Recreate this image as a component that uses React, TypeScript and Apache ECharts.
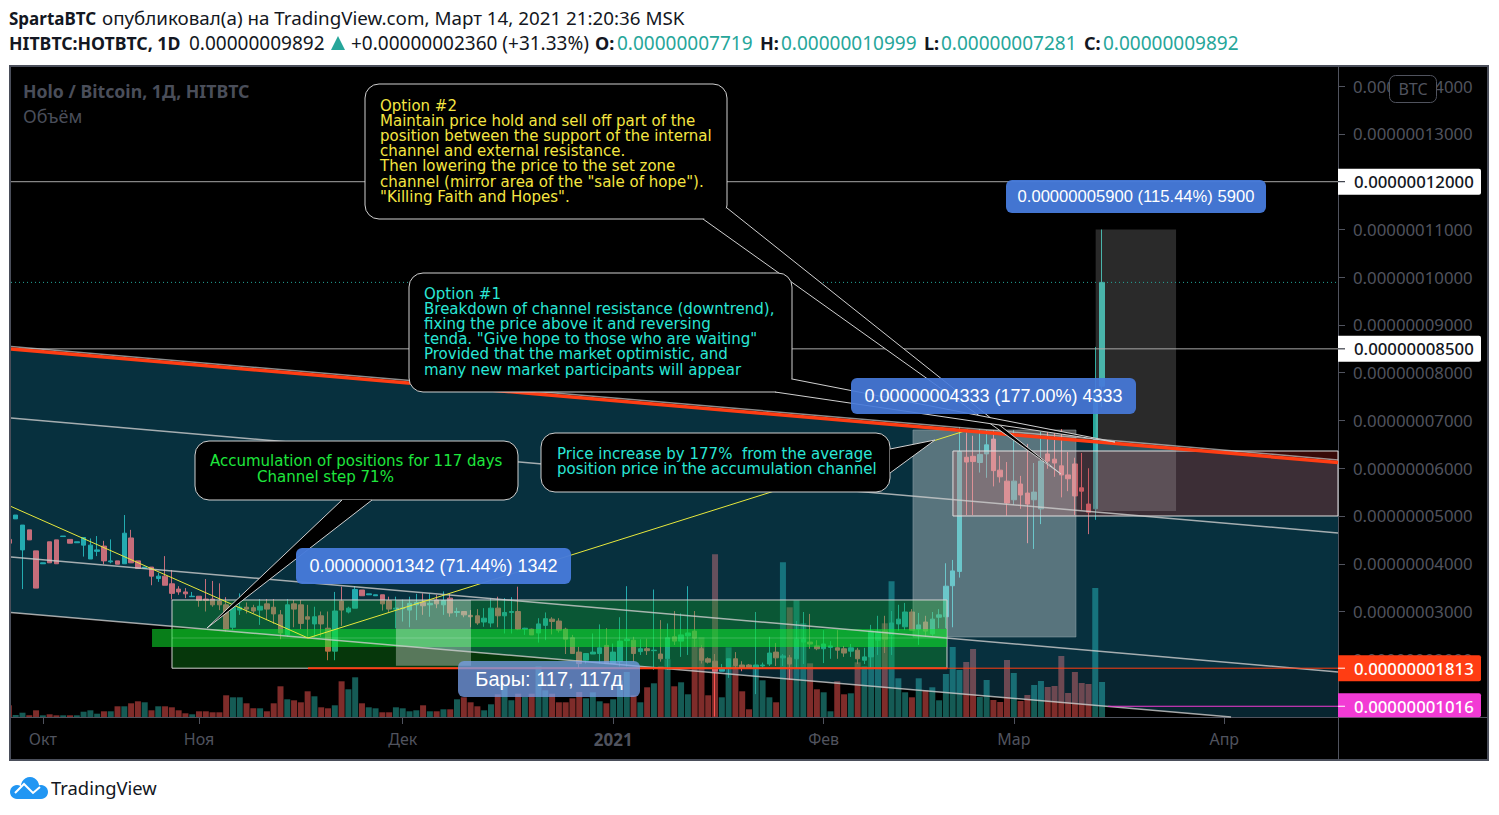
import React, { useEffect, useRef } from "react";
import * as echarts from "echarts";

// Prices are in units of 0.00000000001 BTC. x is a day number, day 0 = 1 Oct 2020.
const firstDay = 3;
// rows: [open, close, low, high]
const ohlcOct = [
  [4510,4430,4430,4510],[4940,5020,4940,5020],[4290,4810,3470,4810],[4710,4500,4500,4710],[4270,3490,3490,4270],
  [4000,4020,4000,4020],[4460,4020,4020,4460],[4500,4000,4000,4500],[4570,4580,4570,4580],[4510,4430,4430,4510],
  [4440,4460,4440,4460],[4390,4550,4150,4550],[4100,4390,4100,4530],[4260,4290,4160,4580],[4370,4060,3990,4480],
  [4040,4060,4010,4510],[4060,3990,3990,4060],[4000,4640,4000,5020],[4540,4020,4020,4710],[4060,3900,3900,4060],
  [3910,3930,3910,3930],[3930,3740,3550,3930],[3690,3740,3620,3810],[3740,3550,3550,4160],[3580,3380,3250,3870],
  [3470,3410,3350,3530],[3410,3370,3280,3490],[3310,3320,3310,3410],
];
const ohlcNov = [
  [3320,3230,3100,3320],[3260,3230,3000,3680],[3260,3140,3100,3640],[3220,3140,3030,3590],[3140,2630,2580,3300],
  [2670,3090,2610,3170],[3030,3090,2930,3380],[3090,3050,2960,3190],[3080,3010,2960,3140],[3030,3110,2720,3260],
  [3160,3050,2820,3260],[3090,2950,2740,3260],[2930,2550,2420,3030],[2510,3140,2470,3260],[3160,3050,2670,3240],
  [3140,2750,2630,3240],[2890,2840,2470,3140],[2740,2890,2470,3100],[2910,2740,2470,3000],[2650,2170,1980,3000],
  [2170,3010,1980,3410],[3220,3030,2700,3520],[2990,3070,2960,3100],[3070,3460,3070,3530],[3450,3330,3330,3450],
  [3350,3370,3350,3370],[3330,3350,3330,3350],[3350,3160,3020,3350],[3230,3050,2990,3310],[3050,3070,2650,3310],
];
const ohlcDec = [
  [3060,3070,2790,3250],[3030,3170,2670,3310],[3140,3190,2820,3370],[3190,3120,2930,3380],[3140,3170,2890,3370],
  [3240,3160,3070,3350],[3140,3230,2930,3420],[3280,2970,2890,3370],[2980,3000,2890,3080],[3000,2930,2880,3000],
  [2920,2890,2670,3030],[2910,2760,2720,3050],[2780,2860,2680,3070],[2760,3070,2670,3280],[3070,2910,2670,3310],
  [2910,2980,2540,3280],[2980,3000,2540,3300],[3000,2630,2610,3520],[2630,2650,2510,2660],[2630,2510,2510,2640],
  [2550,2740,2350,2860],[2710,2850,2400,2980],[2840,2790,2520,2880],[2800,2610,2560,2860],[2630,2420,2110,2660],
  [2450,2120,2110,2510],[2150,1910,1810,2260],[1980,2120,1910,2120],[2110,2150,2110,2540],[2120,2240,1910,2730],
  [2290,1910,1910,2650],
];
const ohlcJan = [
  [1910,2150,1910,2330],[1950,2380,1850,2880],[2390,2420,1850,3530],[2400,2120,1950,2470],[2160,2220,2090,2420],
  [2220,2180,2090,2430],[2180,2190,1780,3460],[2110,2010,1950,2820],[2010,2450,1780,2750],[2470,2380,2300,3010],
  [2380,2510,2050,2960],[2490,2550,2090,3530],[2590,2440,2260,3010],[2220,1980,1910,2300],[2010,1940,1910,2040],
  [1960,1750,800,2110],[1750,1800,1750,1900],[1810,2010,1610,2010],[2010,1870,1810,2150],[1880,1810,1750,1960],
  [1880,1820,1800,1900],[1820,1880,1270,2990],[1860,1880,1830,1930],[1900,2130,1860,2470],[2150,2030,1860,2340],
  [2030,2070,1860,2110],[2030,1900,1570,2090],[2010,2420,1810,2800],[2360,2420,1900,2990],[2360,2320,2220,2950],
  [2280,2220,2190,2400],
];
const ohlcFeb = [
  [2220,2320,1920,2610],[2250,2280,2010,2380],[2240,2190,2010,2610],[2220,2130,2050,2280],[2170,2240,2050,2320],
  [2190,2010,1900,2240],[1980,2050,1900,2240],[2050,2590,1820,2720],[2400,2550,2090,2910],[2590,2420,2130,2910],
  [2510,2760,2090,3010],[2740,2840,2600,3140],[2680,2990,2610,3180],[2990,2610,2610,3050],[2630,2720,2300,2970],
  [2780,2590,2470,2910],[2530,2840,2490,2990],[2880,2930,2650,3050],[2890,3530,2650,4010],[3540,3850,2670,4080],
  [3840,6350,3710,6860],[6230,6130,5020,6750],[6250,6140,5020,6680],[6120,6290,5910,6820],[6300,6490,5800,6800],
  [6610,5950,5620,6800],[5960,5820,5700,6260],[5730,5270,5010,6130],
];
const ohlcMar = [
  [5340,5730,5230,6800],[5670,5440,5150,5840],[5480,5250,4430,6510],[5340,5500,4310,6110],[5150,6150,4830,6760],
  [6300,6150,5990,6760],[6190,6110,5820,6800],[6050,5860,5390,6820],[5860,5780,5520,6340],[6090,5420,5020,6220],
  [5590,5520,5130,6320],[5250,5080,4620,6000],[5150,7532,4920,8540],[7719,9892,7281,10999],
];
const volOct = [11.7,2,4.3,1.7,6.7,1.7,2.7,1.7,1.7,1.7,1.7,5.3,6.7,3.3,5.7,5.7,10.7,10.7,13.7,15.7,14.7,6.7,10.7,10.7,9.7,6.7,3.7,2.7];
const volNov = [5.7,5.7,4.7,4.7,21.7,19.7,19.7,13.7,8.7,8.7,5.7,13.7,30.7,17.7,16.7,14.7,25.7,20.7,9.7,8.7,11.7,35.7,27.7,39.7,13.7,9.7,8.7,4.7,4.7,9.7];
const volDec = [8.7,5.7,6.7,11.7,5.7,5.7,7.7,7.7,17.7,19.7,14.7,10.7,6.7,12.7,22.7,31.7,16.7,23.3,20,23.3,50.7,26.7,23.3,14.7,14.7,18.7,25,18.7,24.7,15.7,13.7];
const volJan = [17.7,36.7,45,21.7,14.7,29.7,33.7,50.7,57.7,30.7,34.7,22.7,77.7,79.7,21.7,162.7,19.7,69.7,51.7,25.7,7.7,51.7,36.7,19.7,14.7,154.7,109.7,116.7,93.7,53.7,27.7];
const volFeb = [24.7,5.7,35.7,22.7,23.7,54.7,50.7,62.7,86.7,93.7,135.7,38.7,24.7,19.7,38.7,26.7,29.7,16.7,43,70,47,55,68,20,37,17,15,57];
const volMar = [44,16,22,32,36,30,31,61,24,45,34,33,129,35];
const monthTicks = [8, 31, 61, 92, 123, 151, 182];
const monthLabels = ["Окт", "Ноя", "Дек", "2021", "Фев", "Мар", "Апр"];
const priceTicks = [14000, 13000, 12000, 11000, 10000, 9000, 8000, 7000, 6000, 5000, 4000, 3000, 2000];
const lastClose = 9892;
// [price, label, fill, text colour]
const priceTags: [number, string, string, string, number][] = [
  [12000, "0.00000012000", "#ffffff", "#131722", 26],
  [8500, "0.00000008500", "#ffffff", "#131722", 26],
  [1813, "0.00000001813", "#ff3d13", "#ffffff", 26],
  [1016, "0.00000001016", "#f23bd4", "#ffffff", 24],
];

// Drawing tools, in [day, price]
const axisLeftDay = 3.31, axisRightDay = 198.75, axisMinPrice = 791, axisMaxPrice = 14423;
const trendLine = [[axisLeftDay, 8497], [axisRightDay, 6120]];
const trendEdge = [[axisLeftDay, 8550], [axisRightDay, 6175]];
const channelLine1 = [[axisLeftDay, 7052], [axisRightDay, 4644]];
const channelLine2 = [[axisLeftDay, 4141], [axisRightDay, 1733]];
const channelLine3 = [[axisLeftDay, 2979], [183, 791]];
const channelFill = [[axisLeftDay, 8497], [axisRightDay, 6120], [axisRightDay, 791], [183, 791], [axisLeftDay, 2979]];
const channelUpper = [[axisLeftDay, 8497], [axisRightDay, 6120], [axisRightDay, 1813], [99.6, 1813], [axisLeftDay, 2979]];
const yellowPath = [[axisLeftDay, 5200], [47.05, 2445], [144.25, 6801]];
const greenBox = [27.02, 141.16, 1813, 3241];
const greenBand = [24.08, 141.16, 2257, 2634];
const measureBox = [60, 71.06, 1865, 3241];
const riseBox = [136.15, 160.16, 2466, 6801];
const lastBox = [163.06, 174.9, 5105, 10999];
const zoneBox = [142.04, axisRightDay, 5000, 6361];

const optionTwoLines = ["Option #2", "Maintain price hold and sell off part of the", "position between the support of the internal", "channel and external resistance.", "Then lowering the price to the set zone", "channel (mirror area of the \"sale of hope\").", "\"Killing Faith and Hopes\"."];
const optionOneLines = ["Option #1", "Breakdown of channel resistance (downtrend),", "fixing the price above it and reversing", "tenda. \"Give hope to those who are waiting\"", "Provided that the market optimistic, and", "many new market participants will appear"];
const priceLines = ["Price increase by 177%  from the average", "position price in the accumulation channel"];

const SANS = '"Noto Sans", sans-serif';
const NOTE = '"DejaVu Sans", sans-serif';
const ARIAL = '"Liberation Sans", Arial, sans-serif';
const AXIS = "#50535e";
const UP = "#26a69a";
const DOWN = "#ff5350";

const allOhlc = [...ohlcOct, ...ohlcNov, ...ohlcDec, ...ohlcJan, ...ohlcFeb, ...ohlcMar];
const allVol = [...volOct, ...volNov, ...volDec, ...volJan, ...volFeb, ...volMar];

function txt(text: string, x: number, y: number, fill: string, size: number, family: string, weight: any = "normal", align = "left") {
  return { type: "text", silent: true, style: { text, x, y, fill, fontSize: size, fontFamily: family, fontWeight: weight, align, verticalAlign: "middle" } };
}
function gtxt(text: string, x: number, y: number, fill: string, size: number, weight: any = "normal") {
  return { type: "text", x, y, silent: true, style: { text, fill, font: `${weight} ${size}px ${SANS}`, verticalAlign: "middle" } };
}

function callout(x: number, y: number, w: number, h: number, tail: number[][]) {
  return [
    { type: "rect", shape: { x, y, width: w, height: h, r: 14 }, style: { fill: "#000", stroke: "#d0d0d0", lineWidth: 1 } },
    { type: "polygon", shape: { points: tail }, style: { fill: "#000" } },
    { type: "polyline", shape: { points: tail }, style: { fill: "none", stroke: "#d0d0d0", lineWidth: 1 } },
  ];
}
function blueLabel(x: number, y: number, w: number, h: number, text: string, fill: string, size: number) {
  return [
    { type: "rect", shape: { x, y, width: w, height: h, r: 6 }, style: { fill } },
    txt(text, x + w / 2, y + h / 2, "#ffffff", size, ARIAL, "normal", "center"),
  ];
}

function renderDrawings(_: any, api: any) {
  const c = (d: number, p: number) => api.coord([d, p]);
  const pts = (a: number[][]) => a.map((q) => c(q[0], q[1]));
  const box = (b: number[], fill: string, stroke?: string, lw = 1) => {
    const a = c(b[0], b[3]);
    const e = c(b[1], b[2]);
    return { type: "rect", shape: { x: a[0], y: a[1], width: e[0] - a[0], height: e[1] - a[1] }, style: { fill, stroke, lineWidth: lw } };
  };
  const line = (a: number[][], stroke: string, lw: number, dash?: number[]) => ({
    type: "polyline", shape: { points: pts(a) }, style: { fill: "none", stroke, lineWidth: lw, lineDash: dash },
  });
  const tags: any[] = [];
  priceTags.forEach(([p, label, fill, color, h]) => {
    const y = c(axisLeftDay, p)[1];
    const x0 = c(axisRightDay, p)[0];
    tags.push({ type: "rect", shape: { x: x0, y: y - 13, width: 143, height: h, r: [0, 2, 2, 0] }, style: { fill } });
    tags.push({ type: "line", shape: { x1: x0, y1: y, x2: x0 + 7, y2: y }, style: { stroke: color, lineWidth: 1 } });
    tags.push(txt(label, x0 + 16, y, color, 16.8, SANS, 500));
  });
  const children: any[] = [
    // keeps the partly hidden first bar inside the frame
    { type: "rect", shape: { x: 0, y: 60, width: 9, height: 705 }, style: { fill: "#ffffff" } },
    { type: "rect", shape: { x: 9, y: 66, width: 2, height: 694 }, style: { fill: "#4a4e5a" } },
    { type: "polygon", shape: { points: pts(channelFill) }, style: { fill: "rgba(40,185,240,0.2)" } },
    { type: "polygon", shape: { points: pts(channelUpper) }, style: { fill: "rgba(0,200,255,0.07)" } },
    box(zoneBox, "rgba(220,40,30,0.25)"),
    box(riseBox, "rgba(255,255,255,0.33)", "rgba(150,170,175,0.5)"),
    box(lastBox, "rgba(255,255,255,0.165)"),
    box(greenBox, "rgba(20,170,35,0.32)", "#d0d0d0"),
    box(greenBand, "rgba(15,230,45,0.55)"),
    line([[27.02, 2445], [141.16, 2445]], "rgba(255,255,255,0.2)", 1),
    box(measureBox, "rgba(255,255,255,0.33)"),
    box(zoneBox, "none", "#e0e0e0"),
    line(channelLine1, "rgba(205,205,205,0.8)", 1.5),
    line(channelLine2, "rgba(205,205,205,0.8)", 1.5),
    line(channelLine3, "rgba(205,205,205,0.8)", 1.5),
    line(yellowPath, "#e8e83c", 1),
    line([[axisLeftDay, 12000], [axisRightDay, 12000]], "#a8a8a8", 1),
    line([[axisLeftDay, 8500], [axisRightDay, 8500]], "#a8a8a8", 1),
    line([[axisLeftDay, lastClose], [axisRightDay, lastClose]], UP, 1, [1, 3]),
    line(trendEdge, "rgba(200,200,200,0.7)", 1.5),
    line(trendLine, "#ff3d13", 3.5),
    line([[47.05, 1813], [141.2, 1813]], "#ff3d13", 2),
    line([[141.2, 1813], [axisRightDay, 1813]], "#ff3d13", 1),
    line([[164.9, 1016], [axisRightDay, 1016]], "#f23bd4", 1),
    ...callout(365, 84, 362, 135, [[703, 219], [1061, 474], [727, 208]]),
    ...callout(409, 273, 383, 119, [[775, 392], [1115, 442], [792, 379]]),
    ...callout(195, 441, 323, 59, [[342, 500], [207, 628], [372, 500]]),
    ...callout(541, 433, 349, 59, [[890, 449], [935, 440], [890, 473]]),
    ...optionTwoLines.map((t, i) => txt(t, 380, 105.5 + i * 15.2, "#f5e642", 15, NOTE)),
    ...optionOneLines.map((t, i) => txt(t, 424, 293.5 + i * 15.2, "#2ae6d6", 15, NOTE)),
    txt("Accumulation of positions for 117 days", 210, 461, "#1ee63c", 15, NOTE),
    txt("Channel step 71%", 257, 476.5, "#1ee63c", 15, NOTE),
    ...priceLines.map((t, i) => txt(t, 557, 453.5 + i * 15.2, "#2ae6d6", 15, NOTE)),
    ...blueLabel(296, 548, 275, 36, "0.00000001342 (71.44%) 1342", "rgba(70,122,218,0.96)", 18),
    ...blueLabel(851, 378, 285, 36, "0.00000004333 (177.00%) 4333", "rgba(70,122,218,0.92)", 18),
    ...blueLabel(1006, 180, 260, 33, "0.00000005900 (115.44%) 5900", "rgba(70,122,218,0.96)", 16.6),
    ...blueLabel(458, 661, 182, 36, "Бары: 117, 117д", "rgba(120,160,235,0.75)", 20),
    ...tags,
    { type: "rect", shape: { x: 1389.5, y: 75.5, width: 47, height: 27, r: 6 }, style: { fill: "#000", stroke: AXIS, lineWidth: 1 } },
    txt("BTC", 1413, 89, AXIS, 16, SANS, "normal", "center"),
  ];
  return { type: "group", children };
}

export default function App() {
  const ref = useRef<HTMLDivElement>(null);
  useEffect(() => {
    document.body.style.margin = "0";
    document.body.style.background = "#fff";
    const chart = echarts.init(ref.current!, undefined, { renderer: "svg" });
    const candles = allOhlc.map((r, i) => [firstDay + i, r[0], r[1], r[2], r[3]]);
    const volumes = allVol.map((v, i) => ({
      value: [firstDay + i, v],
      itemStyle: { color: allOhlc[i][1] >= allOhlc[i][0] ? "rgba(38,166,154,0.55)" : "rgba(239,83,80,0.53)" },
    }));
    chart.setOption({
      animation: false,
      backgroundColor: "#ffffff",
      grid: { left: 11, right: 161, top: 66, bottom: 98, containLabel: false },
      xAxis: {
        type: "value",
        min: axisLeftDay,
        max: axisRightDay,
        axisLine: { show: true, lineStyle: { color: AXIS } },
        axisTick: { show: true, customValues: monthTicks, length: 7, lineStyle: { color: AXIS } },
        axisLabel: {
          customValues: monthTicks,
          color: AXIS,
          fontFamily: SANS,
          fontSize: 16,
          margin: 14,
          formatter: (v: number) => {
            const label = monthLabels[monthTicks.indexOf(v)] ?? "";
            return /^\d+$/.test(label) ? `{year|${label}}` : label;
          },
          rich: { year: { fontFamily: SANS, fontSize: 17, fontWeight: 700, color: AXIS } },
        },
        splitLine: { show: false },
      },
      yAxis: [
        {
          type: "value",
          position: "right",
          min: axisMinPrice,
          max: axisMaxPrice,
          axisLine: { show: true, lineStyle: { color: AXIS } },
          axisTick: { show: true, customValues: priceTicks, length: 7, lineStyle: { color: AXIS } },
          axisLabel: {
            customValues: priceTicks,
            color: AXIS,
            fontFamily: SANS,
            fontSize: 16.8,
            margin: 15,
            formatter: (v: number) => (v * 1e-11).toFixed(11),
          },
          splitLine: { show: false },
        },
        { type: "value", min: 0, max: 651, show: false, splitLine: { show: false } },
      ],
      graphic: {
        elements: [
          { type: "rect", z: -1, shape: { x: 10, y: 66, width: 1478, height: 694 }, style: { fill: "#000", stroke: "#4a4e5a", lineWidth: 2 } },
          { type: "line", z: -1, shape: { x1: 1338, y1: 717.5, x2: 1488, y2: 717.5 }, style: { stroke: AXIS } },
          { type: "line", z: -1, shape: { x1: 1338.5, y1: 717, x2: 1338.5, y2: 760 }, style: { stroke: AXIS } },
          gtxt("SpartaBTC", 9, 18, "#131722", 17, 700),
          gtxt("опубликовал(а) на TradingView.com, Март 14, 2021 21:20:36 MSK", 102, 18, "#131722", 18.8),
          gtxt("HITBTC:HOTBTC, 1D", 9, 43, "#131722", 17.7, 700),
          gtxt("0.00000009892", 189, 43, "#131722", 19),
          { type: "polygon", shape: { points: [[331, 50], [345, 50], [338, 36]] }, style: { fill: UP } },
          gtxt("+0.00000002360 (+31.33%)", 351, 43, "#131722", 19),
          gtxt("O:", 595, 43, "#131722", 18, 700),
          gtxt("0.00000007719", 617, 43, UP, 19),
          gtxt("H:", 760, 43, "#131722", 18, 700),
          gtxt("0.00000010999", 781, 43, UP, 19),
          gtxt("L:", 924, 43, "#131722", 18, 700),
          gtxt("0.00000007281", 941, 43, UP, 19),
          gtxt("C:", 1084, 43, "#131722", 18, 700),
          gtxt("0.00000009892", 1103, 43, UP, 19),
          gtxt("Holo / Bitcoin, 1Д, HITBTC", 23, 91, "#4a4e5a", 17.7, 700),
          gtxt("Объём", 23, 116, "#4a4e5a", 18),
          { type: "circle", shape: { cx: 17, cy: 792, r: 7 }, style: { fill: "#2196f3" } },
          { type: "circle", shape: { cx: 30, cy: 786, r: 9 }, style: { fill: "#2196f3" } },
          { type: "circle", shape: { cx: 41, cy: 792, r: 7 }, style: { fill: "#2196f3" } },
          { type: "rect", shape: { x: 17, y: 790, width: 24, height: 9 }, style: { fill: "#2196f3" } },
          { type: "polyline", shape: { points: [[15, 793], [24, 784], [33, 793], [40, 787]] }, style: { fill: "none", stroke: "#fff", lineWidth: 2 } },
          gtxt("TradingView", 51, 787, "#131722", 18.4),
        ],
      },
      series: [
        {
          type: "bar",
          name: "Объём",
          yAxisIndex: 1,
          barWidth: 6,
          z: 1,
          clip: true,
          data: volumes,
          silent: true,
        },
        {
          type: "candlestick",
          name: "HOTBTC",
          barWidth: 5,
          z: 2,
          clip: true,
          data: candles,
          encode: { x: 0, y: [1, 2, 3, 4] },
          itemStyle: { color: UP, color0: DOWN, borderColor: UP, borderColor0: DOWN, borderWidth: 1 },
          silent: true,
        },
        {
          type: "custom",
          z: 5,
          silent: true,
          clip: false,
          data: [[axisLeftDay, axisMinPrice]],
          encode: { x: 0, y: 1 },
          renderItem: renderDrawings,
        },
      ],
    });
    return () => chart.dispose();
  }, []);
  return <div ref={ref} style={{ position: "absolute", left: 0, top: 0, width: 1499, height: 815 }} />;
}
